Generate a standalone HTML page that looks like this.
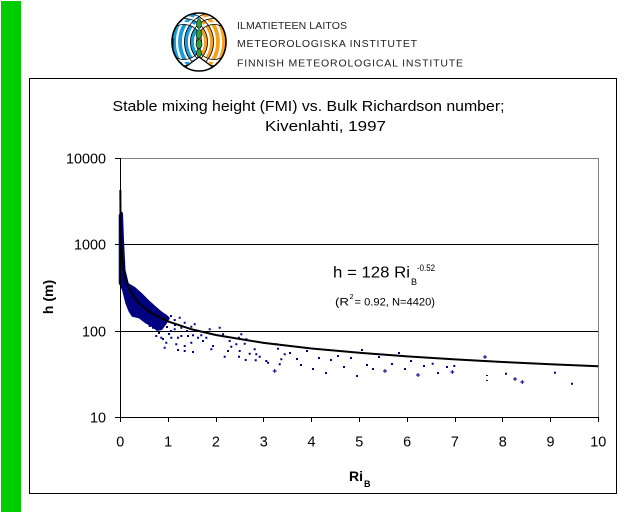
<!DOCTYPE html>
<html>
<head>
<meta charset="utf-8">
<style>
html,body{margin:0;padding:0;background:#fff;}
body{width:640px;height:512px;overflow:hidden;}
svg{display:block;}
text{font-family:"Liberation Sans",Arial,sans-serif;}
</style>
</head>
<body>
<svg width="640" height="512" viewBox="0 0 640 512" xmlns="http://www.w3.org/2000/svg">
<defs>
<clipPath id="lc"><ellipse cx="199" cy="42" rx="27" ry="29"/></clipPath>
</defs>
<rect x="0" y="0" width="640" height="512" fill="#fff"/>
<!-- green bar -->
<rect x="1" y="1" width="20" height="511" fill="#00cc00"/>

<!-- logo -->
<g clip-path="url(#lc)">
  <rect x="170" y="10" width="29" height="64" fill="#1a9ad8"/>
  <rect x="199" y="10" width="29" height="64" fill="#f7a11a"/>
  <g fill="none" stroke="#fff" stroke-width="2.2">
    <circle cx="214" cy="42" r="19"/><circle cx="214" cy="42" r="25"/><circle cx="214" cy="42" r="31"/><circle cx="214" cy="42" r="37"/>
    <circle cx="184" cy="42" r="19"/><circle cx="184" cy="42" r="25"/><circle cx="184" cy="42" r="31"/><circle cx="184" cy="42" r="37"/>
  </g>
  <g fill="none" stroke="#000" stroke-width="0.8">
    <circle cx="214" cy="42" r="17.5"/><circle cx="214" cy="42" r="23.5"/><circle cx="214" cy="42" r="29.5"/>
    <circle cx="184" cy="42" r="17.5"/><circle cx="184" cy="42" r="23.5"/><circle cx="184" cy="42" r="29.5"/>
  </g>
  <polygon points="176,74 199,57 222,74" fill="#fff" stroke="#000" stroke-width="1.2"/>
  <g fill="#2e9e3a" stroke="#000" stroke-width="0.6">
    <ellipse cx="199" cy="24" rx="2.5" ry="4.5"/>
    <ellipse cx="199" cy="34" rx="3" ry="4.5"/>
    <ellipse cx="199" cy="44" rx="3" ry="4.5"/>
    <ellipse cx="199" cy="53" rx="2.5" ry="4"/>
  </g>
</g>
<ellipse cx="199" cy="42" rx="27" ry="29" fill="none" stroke="#000" stroke-width="1.6"/>
<line x1="173" y1="38" x2="173" y2="48" stroke="#000" stroke-width="1"/>

<text x="237" y="29" font-size="10.5" fill="#222" textLength="110" lengthAdjust="spacing">ILMATIETEEN LAITOS</text>
<text x="237" y="47" font-size="10.5" fill="#222" textLength="180" lengthAdjust="spacing">METEOROLOGISKA INSTITUTET</text>
<text x="237" y="66.5" font-size="10.5" fill="#222" textLength="226" lengthAdjust="spacing">FINNISH METEOROLOGICAL INSTITUTE</text>

<!-- chart box -->
<rect x="29.5" y="78.5" width="587" height="415" fill="#fff" stroke="#000" stroke-width="1"/>

<!-- title -->
<text x="112.5" y="111" font-size="15" fill="#000" textLength="392" lengthAdjust="spacingAndGlyphs">Stable mixing height (FMI) vs. Bulk Richardson number;</text>
<text x="265" y="131" font-size="15" fill="#000" textLength="121" lengthAdjust="spacingAndGlyphs">Kivenlahti, 1997</text>

<!-- plot frame -->
<line x1="120" y1="158.5" x2="598.5" y2="158.5" stroke="#808080" stroke-width="1"/>
<line x1="598.5" y1="158" x2="598.5" y2="417.5" stroke="#808080" stroke-width="1"/>
<line x1="120" y1="244.5" x2="598" y2="244.5" stroke="#000" stroke-width="1"/>
<line x1="120" y1="331.5" x2="598" y2="331.5" stroke="#000" stroke-width="1"/>

<!-- dense cloud -->
<polygon fill="#000080" points="118.7,215 121,211 123,213 124,240 125.5,270 128.7,283.3 135.3,287.3 142,293.3 148.7,300 155.3,306 162,311.7 167,315 170,318 167,323.3 162,330 157,331 152,327 145.3,323.3 138.7,318.3 132,316.7 128.7,311.7 125.3,303.3 122,290 118.7,283.3"/>

<!-- scattered points -->
<path fill="#000080" d="
M170,315h2v2h-2z M173.7,319h2v2h-2z M178.7,316.7h2v2h-2z M183.7,321.7h2v2h-2z M190.3,325.7h2v2h-2z M193.7,323.3h2v2h-2z
M180.3,326.7h2v2h-2z M173.7,328.3h2v2h-2z M170.3,336.7h2v2h-2z M177,336.7h2v2h-2z M180.3,335h2v2h-2z M187,335h2v2h-2z
M192,334.3h2v2h-2z M155.3,335h2v2h-2z M160.3,336.7h2v2h-2z M165.3,341.7h2v2h-2z M163.7,346.7h2v2h-2z M175.3,343.3h2v2h-2z
M183.7,345h2v2h-2z M177,349h2v2h-2z M183.7,350h2v2h-2z M192,351h2v2h-2z M190.3,341.7h2v2h-2z M197,336.7h2v2h-2z
M202,340h2v2h-2z M200.3,334.3h2v2h-2z M205.3,336.7h2v2h-2z M208.7,328.3h2v2h-2z M212,345h2v2h-2z M210.3,348.3h2v2h-2z
M218.7,326.7h2v2h-2z M222,333.3h2v2h-2z M227,350h2v2h-2z M223.7,355.7h2v2h-2z M230.3,345.7h2v2h-2z M228.7,340h2v2h-2z
M235.3,343.3h2v2h-2z M238,336.7h2v2h-2z M240.3,333.3h2v2h-2z M243.7,342.7h2v2h-2z M245.3,338.3h2v2h-2z M238.7,350h2v2h-2z
M238,355.7h2v2h-2z M244.7,359h2v2h-2z M248.7,352.7h2v2h-2z M253.7,348.3h2v2h-2z M255.3,353.3h2v2h-2z M254.7,359.3h2v2h-2z
M258.7,355.7h2v2h-2z M265.3,360h2v2h-2z M267,361.7h2v2h-2z M275.3,343.3h2v2h-2z M277,347.7h2v2h-2z M283.7,353.3h2v2h-2z
M280.3,358.3h2v2h-2z M278.7,363.3h2v2h-2z M152,326.7h2v2h-2z M148.7,325h2v2h-2z M170,330h2v2h-2z M166,326h2v2h-2z
M186,330h2v2h-2z M196,330h2v2h-2z M158,332h2v2h-2z M162,338h2v2h-2z M168,333h2v2h-2z M174,324h2v2h-2z
M289,352h2v2h-2z M296,358h2v2h-2z M300,364h2v2h-2z M306,350h2v2h-2z M312,368h2v2h-2z M318,357h2v2h-2z
M325,372h2v2h-2z M330,359h2v2h-2z M337,355h2v2h-2z M343,366h2v2h-2z M350,357h2v2h-2z M356,375h2v2h-2z
M361,349h2v2h-2z M366,364h2v2h-2z M372,368h2v2h-2z M378,356h2v2h-2z M391,363h2v2h-2z M398,352h2v2h-2z
M404,368h2v2h-2z M410,360h2v2h-2z M423,365h2v2h-2z M431.7,362.7h2v2h-2z M437,372h2v2h-2z M446,366h2v2h-2z
M453.3,365h2v2h-2z M486,375h2v1h-2z M486,380h2v1h-2z M505,372.7h2v2h-2z M554,371.7h2v2h-2z M571,382.7h2v2h-2z"/>
<g stroke="#000080" stroke-width="1">
  <path d="M272.7,371h4M274.7,369v4"/>
  <path d="M383,371h4M385,369v4"/>
  <path d="M416,375h4M418,373v4"/>
  <path d="M450.3,372h4M452.3,370v4"/>
  <path d="M483,357h4M485,355v4"/>
  <path d="M513,379h4M515,377v4"/>
  <path d="M520.3,382h4M522.3,380v4"/>
</g>

<!-- fitted curve -->
<polyline fill="none" stroke="#000" stroke-width="2" points="120.36,190 120.4,200.3 120.54,218.2 120.78,231.7 121.26,245.2 122.2,258.7 123.65,269.6 125.1,276.6 127.5,284.5 129.9,290.1 134.6,298 139.4,303.6 144.2,307.9 153.8,314.5 168.1,321.45 192,329.4 215.9,335 263.7,342.9 311.5,348.5 359.3,352.8 407.1,356.4 454.9,359.4 502.7,362 550.5,364.3 598.3,366.3"/>

<!-- axes -->
<line x1="120.5" y1="158" x2="120.5" y2="418" stroke="#000" stroke-width="1"/>
<line x1="115" y1="417.5" x2="598.5" y2="417.5" stroke="#000" stroke-width="1"/>
<g stroke="#000" stroke-width="1">
  <line x1="115" y1="158.5" x2="120" y2="158.5"/>
  <line x1="115" y1="244.5" x2="120" y2="244.5"/>
  <line x1="115" y1="331.5" x2="120" y2="331.5"/>
  <line x1="120.5" y1="417" x2="120.5" y2="422"/>
  <line x1="168.5" y1="417" x2="168.5" y2="422"/>
  <line x1="216.5" y1="417" x2="216.5" y2="422"/>
  <line x1="263.5" y1="417" x2="263.5" y2="422"/>
  <line x1="311.5" y1="417" x2="311.5" y2="422"/>
  <line x1="359.5" y1="417" x2="359.5" y2="422"/>
  <line x1="407.5" y1="417" x2="407.5" y2="422"/>
  <line x1="455.5" y1="417" x2="455.5" y2="422"/>
  <line x1="502.5" y1="417" x2="502.5" y2="422"/>
  <line x1="550.5" y1="417" x2="550.5" y2="422"/>
  <line x1="598.5" y1="417" x2="598.5" y2="422"/>
</g>

<!-- y tick labels -->
<g font-size="14.4" fill="#000" text-anchor="end">
  <text x="106" y="163.5">10000</text>
  <text x="106" y="249.5">1000</text>
  <text x="106" y="336.5">100</text>
  <text x="106" y="422.5">10</text>
</g>
<!-- x tick labels -->
<g font-size="14.4" fill="#000" text-anchor="middle">
  <text x="120.3" y="446.7">0</text>
  <text x="168.1" y="446.7">1</text>
  <text x="215.9" y="446.7">2</text>
  <text x="263.7" y="446.7">3</text>
  <text x="311.5" y="446.7">4</text>
  <text x="359.3" y="446.7">5</text>
  <text x="407.1" y="446.7">6</text>
  <text x="454.9" y="446.7">7</text>
  <text x="502.7" y="446.7">8</text>
  <text x="550.5" y="446.7">9</text>
  <text x="598.3" y="446.7">10</text>
</g>

<!-- axis titles -->
<text transform="translate(53,297) rotate(-90)" font-size="14" font-weight="bold" text-anchor="middle" fill="#000">h (m)</text>
<text x="349" y="481" font-size="14" font-weight="bold" fill="#000">Ri</text>
<text x="364" y="487" font-size="9" font-weight="bold" fill="#000">B</text>

<!-- equation -->
<text x="333" y="277.5" font-size="15.5" fill="#000" textLength="77" lengthAdjust="spacingAndGlyphs">h = 128 Ri</text>
<text x="411" y="285" font-size="9" fill="#000">B</text>
<text x="417" y="271" font-size="9" fill="#000" textLength="18" lengthAdjust="spacingAndGlyphs">-0.52</text>
<text x="335" y="305.5" font-size="11" fill="#000" textLength="14" lengthAdjust="spacingAndGlyphs">(R</text>
<text x="349.5" y="299" font-size="7.5" fill="#000">2</text>
<text x="354.5" y="305.5" font-size="11" fill="#000" textLength="80.5" lengthAdjust="spacingAndGlyphs">= 0.92, N=4420)</text>
</svg>
</body>
</html>
